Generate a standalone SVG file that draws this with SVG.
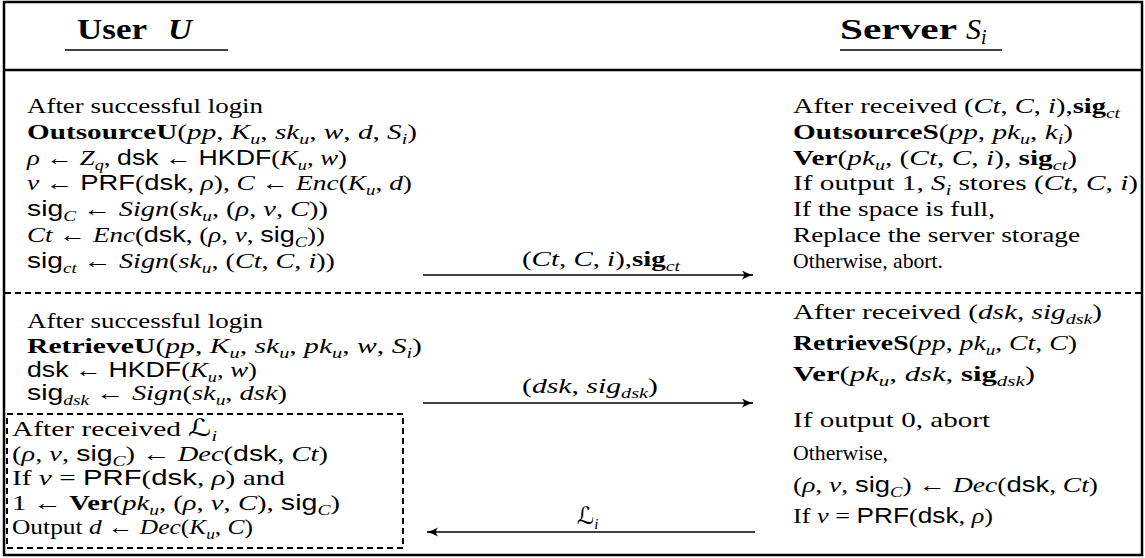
<svg xmlns="http://www.w3.org/2000/svg" width="1145" height="558" viewBox="0 0 1145 558">
<style>
.t{font-family:"Liberation Serif",serif;font-size:22px;fill:#000}
.h{font-family:"Liberation Serif",serif;font-size:30px;fill:#000;font-weight:bold}
.i{font-style:italic}
.b{font-weight:bold}
.s{font-family:"Liberation Sans",sans-serif}
.sb{font-size:15px}
.cal{font-family:"DejaVu Serif","DejaVu Sans",serif;font-style:italic;font-size:24px}
.frame{fill:none;stroke:#000;stroke-width:2.5}
.rule{stroke:#000;stroke-width:2.5}
.ul{stroke:#000;stroke-width:1.5}
.dash{stroke:#000;stroke-width:2;stroke-dasharray:6 4;fill:none}
.arr{stroke:#000;stroke-width:1.4;fill:none}
</style>
<defs>
<marker id="ah" viewBox="-12 -6 14 12" refX="0" refY="0" markerWidth="14" markerHeight="12" markerUnits="userSpaceOnUse" orient="auto">
<path d="M-11,-4.5 Q-5,-1 0,0 Q-5,1 -11,4.5 Q-7,0 -11,-4.5 Z" fill="#000"/>
</marker>
</defs>
<rect width="1145" height="558" fill="#fff"/>
<rect class="frame" x="4" y="2" width="1138" height="553"/>
<line class="rule" x1="4" y1="70" x2="1142" y2="70"/>
<line class="dash" x1="5" y1="293" x2="1141" y2="293"/>

<g id="header-user">
<text class="h" x="77" y="39" textLength="70" lengthAdjust="spacingAndGlyphs">User</text>
<text class="h i" x="168" y="39" textLength="24" lengthAdjust="spacingAndGlyphs">U</text>
<line class="ul" x1="65" y1="50" x2="228" y2="50"/>
</g>
<g id="header-server">
<text class="h" x="840" y="39" textLength="117" lengthAdjust="spacingAndGlyphs">Server</text>
<text class="h" x="966" y="39" style="font-weight:normal"><tspan class="i">S</tspan><tspan class="i" style="font-size:20px" dy="5">i</tspan></text>
<line class="ul" x1="840" y1="50" x2="1002" y2="50"/>
</g>

<g id="outsource-user">
<text class="t" x="27" y="113" textLength="236" lengthAdjust="spacingAndGlyphs">After successful login</text>
<text class="t" x="27" y="139" textLength="390" lengthAdjust="spacingAndGlyphs"><tspan class="b">OutsourceU</tspan>(<tspan class="i">pp</tspan>, <tspan class="i">K</tspan><tspan class="i sb" dy="5">u</tspan><tspan dy="-5">, </tspan><tspan class="i">sk</tspan><tspan class="i sb" dy="5">u</tspan><tspan dy="-5">, </tspan><tspan class="i">w</tspan>, <tspan class="i">d</tspan>, <tspan class="i">S</tspan><tspan class="i sb" dy="5">i</tspan><tspan dy="-5">)</tspan></text>
<text class="t" x="27" y="165" textLength="320" lengthAdjust="spacingAndGlyphs"><tspan class="i">ρ</tspan> ← <tspan class="i">Z</tspan><tspan class="i sb" dy="5">q</tspan><tspan dy="-5">, </tspan><tspan class="s">dsk</tspan> ← <tspan class="s">HKDF</tspan>(<tspan class="i">K</tspan><tspan class="i sb" dy="5">u</tspan><tspan dy="-5">, </tspan><tspan class="i">w</tspan>)</text>
<text class="t" x="27" y="190" textLength="385" lengthAdjust="spacingAndGlyphs"><tspan class="i">v</tspan> ← <tspan class="s">PRF</tspan>(<tspan class="s">dsk</tspan>, <tspan class="i">ρ</tspan>), <tspan class="i">C</tspan> ← <tspan class="i">Enc</tspan>(<tspan class="i">K</tspan><tspan class="i sb" dy="5">u</tspan><tspan dy="-5">, </tspan><tspan class="i">d</tspan>)</text>
<text class="t" x="27" y="216" textLength="301" lengthAdjust="spacingAndGlyphs"><tspan class="s">sig</tspan><tspan class="i sb" dy="5">C</tspan><tspan dy="-5"> ← </tspan><tspan class="i">Sign</tspan>(<tspan class="i">sk</tspan><tspan class="i sb" dy="5">u</tspan><tspan dy="-5">, (</tspan><tspan class="i">ρ</tspan>, <tspan class="i">v</tspan>, <tspan class="i">C</tspan>))</text>
<text class="t" x="27" y="242" textLength="298" lengthAdjust="spacingAndGlyphs"><tspan class="i">Ct</tspan> ← <tspan class="i">Enc</tspan>(<tspan class="s">dsk</tspan>, (<tspan class="i">ρ</tspan>, <tspan class="i">v</tspan>, <tspan class="s">sig</tspan><tspan class="i sb" dy="5">C</tspan><tspan dy="-5">))</tspan></text>
<text class="t" x="27" y="268" textLength="308" lengthAdjust="spacingAndGlyphs"><tspan class="s">sig</tspan><tspan class="i sb" dy="5">ct</tspan><tspan dy="-5"> ← </tspan><tspan class="i">Sign</tspan>(<tspan class="i">sk</tspan><tspan class="i sb" dy="5">u</tspan><tspan dy="-5">, (</tspan><tspan class="i">Ct</tspan>, <tspan class="i">C</tspan>, <tspan class="i">i</tspan>))</text>
</g>

<g id="outsource-server">
<text class="t" x="793" y="113" textLength="327" lengthAdjust="spacingAndGlyphs">After received (<tspan class="i">Ct</tspan>, <tspan class="i">C</tspan>, <tspan class="i">i</tspan>),<tspan class="b">sig</tspan><tspan class="i sb" dy="5">ct</tspan></text>
<text class="t" x="793" y="139" textLength="280" lengthAdjust="spacingAndGlyphs"><tspan class="b">OutsourceS</tspan>(<tspan class="i">pp</tspan>, <tspan class="i">pk</tspan><tspan class="i sb" dy="5">u</tspan><tspan dy="-5">, </tspan><tspan class="i">k</tspan><tspan class="i sb" dy="5">i</tspan><tspan dy="-5">)</tspan></text>
<text class="t" x="793" y="165" textLength="284" lengthAdjust="spacingAndGlyphs"><tspan class="b">Ver</tspan>(<tspan class="i">pk</tspan><tspan class="i sb" dy="5">u</tspan><tspan dy="-5">, (</tspan><tspan class="i">Ct</tspan>, <tspan class="i">C</tspan>, <tspan class="i">i</tspan>), <tspan class="b">sig</tspan><tspan class="i sb" dy="5">ct</tspan><tspan dy="-5">)</tspan></text>
<text class="t" x="793" y="190" textLength="345" lengthAdjust="spacingAndGlyphs">If output 1, <tspan class="i">S</tspan><tspan class="i sb" dy="5">i</tspan><tspan dy="-5"> stores (</tspan><tspan class="i">Ct</tspan>, <tspan class="i">C</tspan>, <tspan class="i">i</tspan>)</text>
<text class="t" x="793" y="216" textLength="202" lengthAdjust="spacingAndGlyphs">If the space is full,</text>
<text class="t" x="793" y="242" textLength="287" lengthAdjust="spacingAndGlyphs">Replace the server storage</text>
<text class="t" x="793" y="268" textLength="150" lengthAdjust="spacingAndGlyphs">Otherwise, abort.</text>
</g>

<g id="retrieve-user">
<text class="t" x="27" y="328" textLength="236" lengthAdjust="spacingAndGlyphs">After successful login</text>
<text class="t" x="27" y="353" textLength="395" lengthAdjust="spacingAndGlyphs"><tspan class="b">RetrieveU</tspan>(<tspan class="i">pp</tspan>, <tspan class="i">K</tspan><tspan class="i sb" dy="5">u</tspan><tspan dy="-5">, </tspan><tspan class="i">sk</tspan><tspan class="i sb" dy="5">u</tspan><tspan dy="-5">, </tspan><tspan class="i">pk</tspan><tspan class="i sb" dy="5">u</tspan><tspan dy="-5">, </tspan><tspan class="i">w</tspan>, <tspan class="i">S</tspan><tspan class="i sb" dy="5">i</tspan><tspan dy="-5">)</tspan></text>
<text class="t" x="27" y="377" textLength="230" lengthAdjust="spacingAndGlyphs"><tspan class="s">dsk</tspan> ← <tspan class="s">HKDF</tspan>(<tspan class="i">K</tspan><tspan class="i sb" dy="5">u</tspan><tspan dy="-5">, </tspan><tspan class="i">w</tspan>)</text>
<text class="t" x="27" y="400" textLength="260" lengthAdjust="spacingAndGlyphs"><tspan class="s">sig</tspan><tspan class="i sb" dy="5">dsk</tspan><tspan dy="-5"> ← </tspan><tspan class="i">Sign</tspan>(<tspan class="i">sk</tspan><tspan class="i sb" dy="5">u</tspan><tspan dy="-5">, </tspan><tspan class="i">dsk</tspan>)</text>
</g>

<g id="retrieve-user-check">
<rect class="dash" x="7" y="414" width="396" height="134"/>
<text class="t" x="12" y="436" textLength="205" lengthAdjust="spacingAndGlyphs">After received <tspan class="cal">ℒ</tspan><tspan class="i sb" dy="5">i</tspan></text>
<text class="t" x="12" y="461" textLength="316" lengthAdjust="spacingAndGlyphs">(<tspan class="i">ρ</tspan>, <tspan class="i">v</tspan>, <tspan class="s">sig</tspan><tspan class="i sb" dy="5">C</tspan><tspan dy="-5">) ← </tspan><tspan class="i">Dec</tspan>(<tspan class="s">dsk</tspan>, <tspan class="i">Ct</tspan>)</text>
<text class="t" x="12" y="485" textLength="273" lengthAdjust="spacingAndGlyphs">If <tspan class="i">v</tspan> = <tspan class="s">PRF</tspan>(<tspan class="s">dsk</tspan>, <tspan class="i">ρ</tspan>) and</text>
<text class="t" x="12" y="510" textLength="328" lengthAdjust="spacingAndGlyphs">1 ← <tspan class="b">Ver</tspan>(<tspan class="i">pk</tspan><tspan class="i sb" dy="5">u</tspan><tspan dy="-5">, (</tspan><tspan class="i">ρ</tspan>, <tspan class="i">v</tspan>, <tspan class="i">C</tspan>), <tspan class="s">sig</tspan><tspan class="i sb" dy="5">C</tspan><tspan dy="-5">)</tspan></text>
<text class="t" x="12" y="534" textLength="241" lengthAdjust="spacingAndGlyphs">Output <tspan class="i">d</tspan> ← <tspan class="i">Dec</tspan>(<tspan class="i">K</tspan><tspan class="i sb" dy="5">u</tspan><tspan dy="-5">, </tspan><tspan class="i">C</tspan>)</text>
</g>

<g id="retrieve-server">
<text class="t" x="793" y="319" textLength="309" lengthAdjust="spacingAndGlyphs">After received (<tspan class="i">dsk</tspan>, <tspan class="i">sig</tspan><tspan class="i sb" dy="5">dsk</tspan><tspan dy="-5">)</tspan></text>
<text class="t" x="793" y="350" textLength="284" lengthAdjust="spacingAndGlyphs"><tspan class="b">RetrieveS</tspan>(<tspan class="i">pp</tspan>, <tspan class="i">pk</tspan><tspan class="i sb" dy="5">u</tspan><tspan dy="-5">, </tspan><tspan class="i">Ct</tspan>, <tspan class="i">C</tspan>)</text>
<text class="t" x="793" y="381" textLength="242" lengthAdjust="spacingAndGlyphs"><tspan class="b">Ver</tspan>(<tspan class="i">pk</tspan><tspan class="i sb" dy="5">u</tspan><tspan dy="-5">, </tspan><tspan class="i">dsk</tspan>, <tspan class="b">sig</tspan><tspan class="i sb" dy="5">dsk</tspan><tspan dy="-5">)</tspan></text>
<text class="t" x="793" y="427" textLength="197" lengthAdjust="spacingAndGlyphs">If output 0, abort</text>
<text class="t" x="793" y="460" textLength="95" lengthAdjust="spacingAndGlyphs">Otherwise,</text>
<text class="t" x="793" y="492" textLength="305" lengthAdjust="spacingAndGlyphs">(<tspan class="i">ρ</tspan>, <tspan class="i">v</tspan>, <tspan class="s">sig</tspan><tspan class="i sb" dy="5">C</tspan><tspan dy="-5">) ← </tspan><tspan class="i">Dec</tspan>(<tspan class="s">dsk</tspan>, <tspan class="i">Ct</tspan>)</text>
<text class="t" x="793" y="523" textLength="200" lengthAdjust="spacingAndGlyphs">If <tspan class="i">v</tspan> = <tspan class="s">PRF</tspan>(<tspan class="s">dsk</tspan>, <tspan class="i">ρ</tspan>)</text>
</g>

<g id="connectors">
<line class="arr" x1="423" y1="275" x2="753" y2="275" marker-end="url(#ah)"/>
<text class="t" x="522" y="266" textLength="158" lengthAdjust="spacingAndGlyphs">(<tspan class="i">Ct</tspan>, <tspan class="i">C</tspan>, <tspan class="i">i</tspan>),<tspan class="b">sig</tspan><tspan class="i sb" dy="5">ct</tspan></text>
<line class="arr" x1="423" y1="403" x2="753" y2="403" marker-end="url(#ah)"/>
<text class="t" x="522" y="393" textLength="136" lengthAdjust="spacingAndGlyphs">(<tspan class="i">dsk</tspan>, <tspan class="i">sig</tspan><tspan class="i sb" dy="5">dsk</tspan><tspan dy="-5">)</tspan></text>
<line class="arr" x1="755" y1="532" x2="427" y2="532" marker-end="url(#ah)"/>
<text class="t" x="577" y="524"><tspan class="cal">ℒ</tspan><tspan class="i sb" dy="5">i</tspan></text>
</g>
</svg>
